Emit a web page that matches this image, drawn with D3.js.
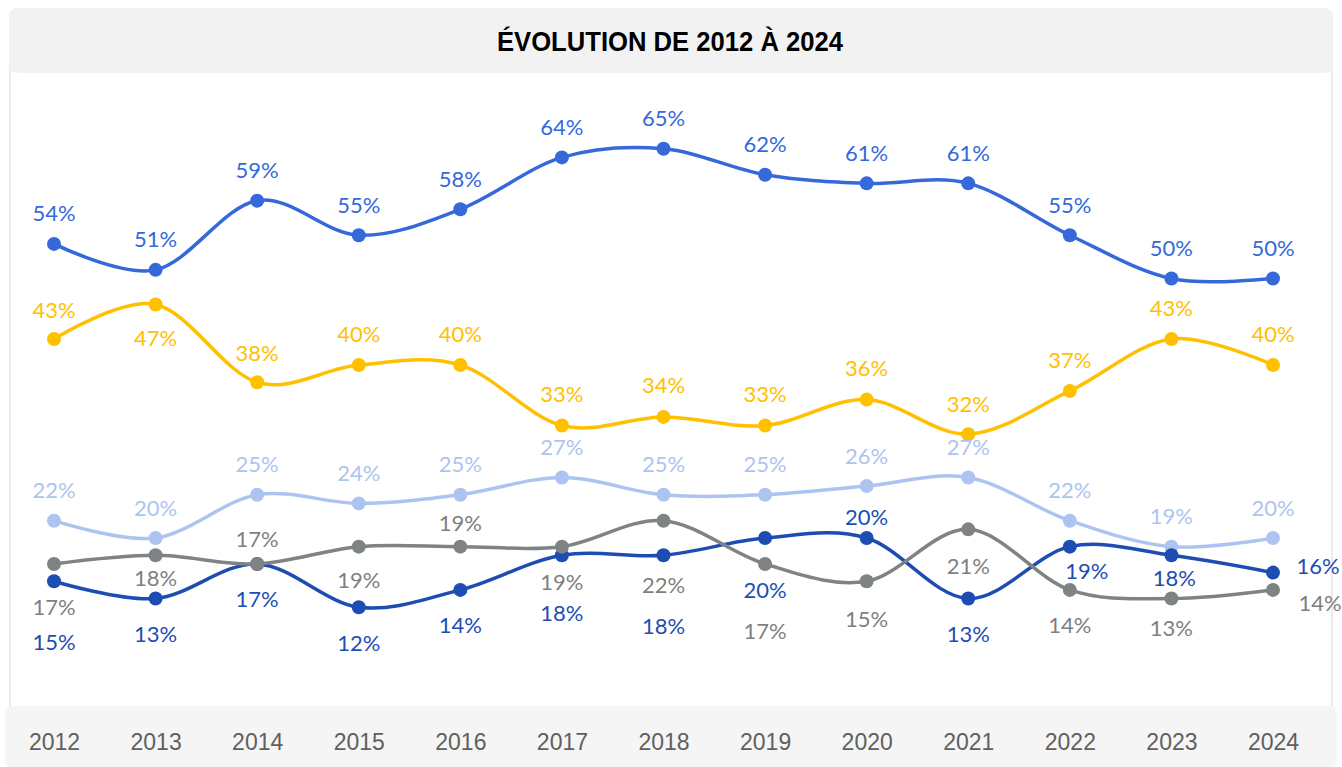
<!DOCTYPE html>
<html>
<head>
<meta charset="utf-8">
<script src="https://cdn.jsdelivr.net/npm/d3@7"></script>
<style>
  html, body { margin: 0; padding: 0; background: #ffffff; }
  svg { display: block; }
</style>
</head>
<body>
<svg id="chart" width="1342" height="767"></svg>
<script>
// Years shown on the x axis
const years = ["2012","2013","2014","2015","2016","2017","2018","2019","2020","2021","2022","2023","2024"];

// Series values (%)
const serieA = [54, 51, 59, 55, 58, 64, 65, 62, 61, 61, 55, 50, 50];
const serieB = [43, 47, 38, 40, 40, 33, 34, 33, 36, 32, 37, 43, 40];
const serieC = [22, 20, 25, 24, 25, 27, 25, 25, 26, 27, 22, 19, 20];
const serieD = [15, 13, 17, 12, 14, 18, 18, 20, 20, 13, 19, 18, 16];
const serieE = [17, 18, 17, 19, 19, 19, 22, 17, 15, 21, 14, 13, 14];

const titleText = "ÉVOLUTION DE 2012 À 2024";

// Label placement relative to each point, [dx, dy] in px
const offA = years.map(() => [0, -31]);
const offB = [[0,-30],[0,33],[0,-30],[0,-32],[0,-32],[0,-32],[0,-32],[0,-32],[0,-32],[0,-31],[0,-31],[0,-32],[0,-32]];
const offC = years.map(() => [0, -31]);
const offD = [[0,60],[0,35],[0,35],[0,35],[0,35],[0,57],[0,70],[0,51],[0,-22],[0,35],[17,24],[3,22],[45,-7]];
const offE = [[0,43],[0,22],[0,-25],[0,33],[0,-24],[0,35],[0,64],[0,67],[0,37],[0,36],[0,35],[0,29],[47,13]];

const series = [
  { values: serieA, color: "#3569da", labelColor: "#3569da", off: offA },
  { values: serieB, color: "#ffc000", labelColor: "#ffc000", off: offB },
  { values: serieC, color: "#aec4f0", labelColor: "#aec4f0", off: offC },
  { values: serieD, color: "#1d4db3", labelColor: "#1d4db3", off: offD },
  { values: serieE, color: "#7f8383", labelColor: "#7f7f7f", off: offE }
];

const svg = d3.select("#chart");

// Chart frame
svg.append("rect")
  .attr("x", 10).attr("y", 40).attr("width", 1322).attr("height", 668)
  .attr("fill", "#ffffff").attr("stroke", "#ececec").attr("stroke-width", 2);

// Title banner
svg.append("rect")
  .attr("x", 9).attr("y", 8).attr("width", 1324).attr("height", 65)
  .attr("rx", 8).attr("fill", "#f2f2f2");
svg.append("text")
  .attr("x", 670).attr("y", 42)
  .attr("text-anchor", "middle").attr("dominant-baseline", "central")
  .attr("font-family", "'Liberation Sans Narrow', 'Liberation Sans', sans-serif")
  .attr("font-weight", "bold").attr("font-size", 27)
  .attr("textLength", 346).attr("lengthAdjust", "spacingAndGlyphs")
  .attr("fill", "#000000")
  .text(titleText);

// Bottom band for the axis labels
svg.append("rect")
  .attr("x", 5).attr("y", 706).attr("width", 1332).attr("height", 61)
  .attr("rx", 6).attr("fill", "#f5f5f5");

const x = d3.scalePoint().domain(years).range([54, 1273]);
const y = d3.scaleLinear().domain([10, 70]).range([624.5, 105.5]);

// X axis (labels only)
const xAxis = d3.axisBottom(x).tickSize(0).tickPadding(0);
const gx = svg.append("g").attr("transform", "translate(0,742)").call(xAxis);
gx.select(".domain").remove();
gx.selectAll("text")
  .attr("dy", "0.35em")
  .attr("font-family", "'Liberation Sans', sans-serif")
  .attr("font-size", 23)
  .attr("fill", "#5f5f5f");

const line = d3.line()
  .x((d, i) => x(years[i]))
  .y(d => y(d))
  .curve(d3.curveCardinal.tension(0));

series.forEach(s => {
  const g = svg.append("g");
  g.append("path")
    .datum(s.values)
    .attr("d", line)
    .attr("fill", "none")
    .attr("stroke", s.color)
    .attr("stroke-width", 3.5)
    .attr("stroke-linecap", "round");
  g.selectAll("circle")
    .data(s.values)
    .join("circle")
    .attr("cx", (d, i) => x(years[i]))
    .attr("cy", d => y(d))
    .attr("r", 7)
    .attr("fill", s.color);
});

// Value labels drawn above all lines
series.forEach(s => {
  svg.append("g").selectAll("text")
    .data(s.values)
    .join("text")
    .attr("x", (d, i) => x(years[i]) + s.off[i][0])
    .attr("y", (d, i) => y(d) + s.off[i][1])
    .attr("text-anchor", "middle")
    .attr("dominant-baseline", "central")
    .attr("font-family", "Lato, 'Noto Sans', sans-serif")
    .attr("font-weight", 400)
    .attr("font-size", 22)
    .attr("fill", s.labelColor)
    .text(d => d + "%");
});
</script>
</body>
</html>
